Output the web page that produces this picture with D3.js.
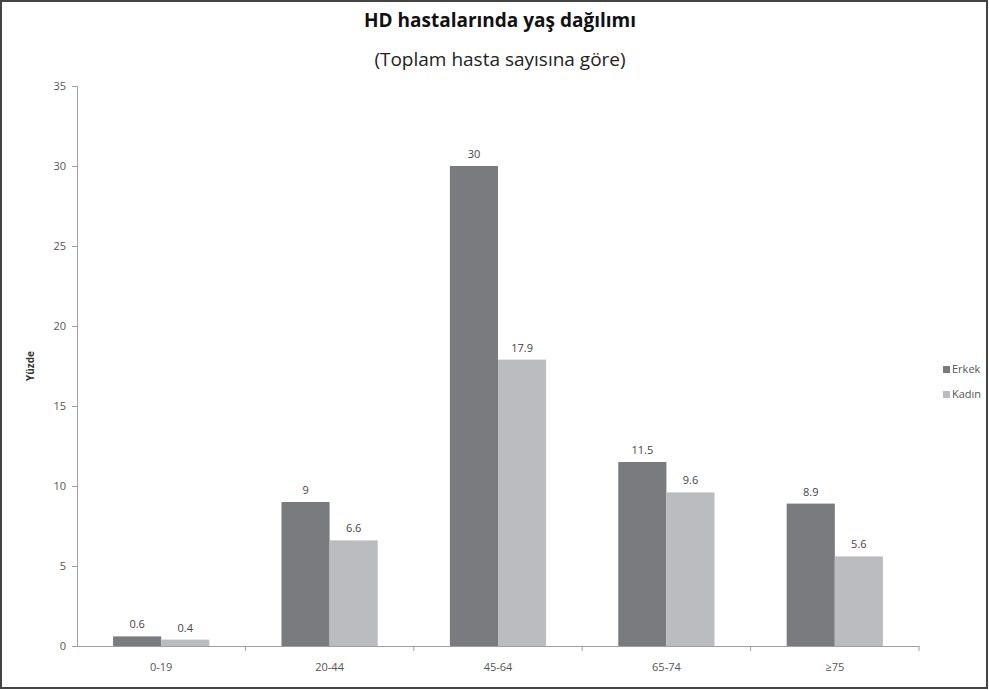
<!DOCTYPE html>
<html>
<head>
<meta charset="utf-8">
<script src="https://cdn.jsdelivr.net/npm/d3@7"></script>
<style>
  body { margin: 0; background: #fff; }
  svg { display: block; font-family: "Open Sans", "DejaVu Sans", sans-serif; }
</style>
</head>
<body>
<svg id="chart" width="989" height="690"></svg>
<script>
// data
const categories = ["0-19", "20-44", "45-64", "65-74", "≥75"];
const seriesNames = ["Erkek", "Kadın"];
const erkek = [0.6, 9, 30, 11.5, 8.9];
const kadin = [0.4, 6.6, 17.9, 9.6, 5.6];
const yTicks = [0, 5, 10, 15, 20, 25, 30, 35];
const colors = ["#7a7b7e", "#babcbf"];

const svg = d3.select("#chart");
const W = 989, H = 690;
const margin = {left: 77, right: 70, top: 86, bottom: 44};

// frame
svg.append("rect")
    .attr("x", 1).attr("y", 1)
    .attr("width", W - 3).attr("height", H - 3)
    .attr("fill", "#fff")
    .attr("stroke", "#444")
    .attr("stroke-width", 2);

const x = d3.scaleBand()
    .domain(categories)
    .range([margin.left, W - margin.right])
    .paddingInner(0)
    .paddingOuter(0);

const xSub = d3.scaleBand()
    .domain(seriesNames)
    .range([0, x.bandwidth()])
    .paddingOuter(0.75)
    .paddingInner(0);

const y = d3.scaleLinear()
    .domain([0, 35])
    .range([H - margin.bottom, margin.top]);

const rows = categories.map((c, i) => ({cat: c, values: [erkek[i], kadin[i]]}));

// bars
const groups = svg.selectAll(".grp")
    .data(rows)
    .enter()
    .append("g")
    .attr("class", "grp")
    .attr("transform", d => `translate(${x(d.cat)},0)`);

groups.selectAll("rect")
    .data(d => d.values.map((v, j) => ({name: seriesNames[j], value: v, j: j})))
    .enter()
    .append("rect")
    .attr("x", d => xSub(d.name))
    .attr("y", d => y(d.value))
    .attr("width", xSub.bandwidth())
    .attr("height", d => y(0) - y(d.value))
    .style("fill", d => colors[d.j]);

groups.selectAll("text")
    .data(d => d.values.map((v, j) => ({name: seriesNames[j], value: v})))
    .enter()
    .append("text")
    .attr("x", d => xSub(d.name) + xSub.bandwidth() / 2)
    .attr("y", d => y(d.value) - 8)
    .attr("text-anchor", "middle")
    .style("font-size", "11px")
    .style("fill", "#444")
    .text(d => d.value);

// y axis
const yAxis = svg.append("g")
    .attr("transform", `translate(${margin.left},0)`)
    .call(d3.axisLeft(y).tickValues(yTicks).tickSize(5).tickPadding(6));
yAxis.select(".domain").attr("stroke", "#a0a0a0");
yAxis.selectAll(".tick line").attr("stroke", "#a0a0a0");
yAxis.selectAll(".tick text")
    .attr("fill", "#555")
    .style("font-size", "11px")
    .style("font-family", "Open Sans, sans-serif");

// x axis
const xAxis = svg.append("g")
    .attr("transform", `translate(0,${y(0)})`)
    .call(d3.axisBottom(x).tickSize(0).tickPadding(17));
xAxis.select(".domain").attr("stroke", "#a0a0a0");
xAxis.selectAll(".tick text")
    .attr("fill", "#555")
    .style("font-size", "11px")
    .style("font-family", "Open Sans, sans-serif");
// boundary ticks between categories
const bounds = categories.slice(1).map(c => x(c)).concat([x.range()[1]]);
xAxis.selectAll(".bound")
    .data(bounds)
    .enter()
    .append("line")
    .attr("class", "bound")
    .attr("x1", d => d).attr("x2", d => d)
    .attr("y1", 0).attr("y2", 5)
    .attr("stroke", "#a0a0a0");

// y title
svg.append("text")
    .attr("transform", `translate(34,${(y(0) + y(35)) / 2}) rotate(-90)`)
    .attr("text-anchor", "middle")
    .style("font-size", "10px")
    .style("font-weight", "bold")
    .style("fill", "#333")
    .text("Yüzde");

// titles
svg.append("text")
    .attr("x", 500).attr("y", 27)
    .attr("text-anchor", "middle")
    .style("font-size", "19px")
    .style("font-weight", "bold")
    .style("fill", "#111")
    .text("HD hastalarında yaş dağılımı");

svg.append("text")
    .attr("x", 500).attr("y", 66)
    .attr("text-anchor", "middle")
    .style("font-size", "19px")
    .style("fill", "#222")
    .text("(Toplam hasta sayısına göre)");

// legend
const legend = svg.append("g").attr("transform", "translate(943,366)");
const li = legend.selectAll("g")
    .data(seriesNames)
    .enter()
    .append("g")
    .attr("transform", (d, i) => `translate(0,${i * 25})`);
li.append("rect")
    .attr("width", 7).attr("height", 7)
    .style("fill", (d, i) => colors[i]);
li.append("text")
    .attr("x", 9).attr("y", 7)
    .style("font-size", "11px")
    .style("fill", "#555")
    .text(d => d);
</script>
</body>
</html>
